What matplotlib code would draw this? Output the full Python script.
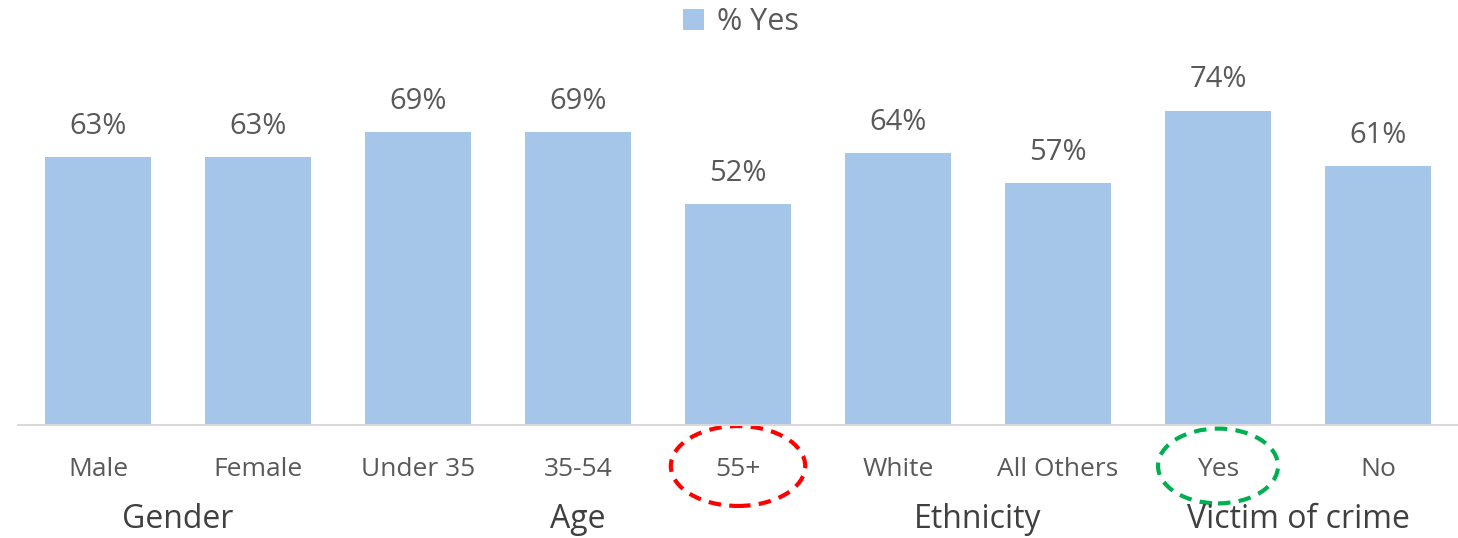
import matplotlib.pyplot as plt
from matplotlib.patches import Ellipse
import matplotlib.transforms as mtransforms

categories = ['Male', 'Female', 'Under 35', '35-54', '55+', 'White', 'All Others', 'Yes', 'No']
values = [63, 63, 69, 69, 52, 64, 57, 74, 61]
groups = ['Gender', 'Age', 'Ethnicity', 'Victim of crime']
group_centers = [0.5, 3.0, 5.5, 7.5]

bar_color = '#A5C6E8'
text_color = '#595959'
plt.rcParams['font.family'] = ['Open Sans', 'DejaVu Sans']

fig = plt.figure(figsize=(14.58, 5.38), dpi=100)
ax = fig.add_axes([18 / 1458, 1 - 425 / 538, 1440 / 1458, 340 / 538])

x = range(len(categories))
bars = ax.bar(x, values, width=0.66, color=bar_color, label='% Yes', zorder=2)
ax.set_xlim(-0.5, len(categories) - 0.5)
ax.set_ylim(0, 80)

for xi, v in zip(x, values):
    ax.annotate(f'{v}%', (xi, v), xytext=(0, 22), textcoords='offset points',
                ha='center', va='center', fontsize=21, color=text_color)

for s in ['top', 'right', 'left']:
    ax.spines[s].set_visible(False)
ax.spines['bottom'].set_color('#D9D9D9')
ax.spines['bottom'].set_linewidth(1.5)
ax.set_yticks([])
ax.set_xticks([])

trans = mtransforms.blended_transform_factory(ax.transData, ax.transAxes)
for xi, c in zip(x, categories):
    ax.text(xi, -44 / 340, c, transform=trans, ha='center', va='center',
            fontsize=19, color=text_color, clip_on=False)
for g, c in zip(groups, group_centers):
    ax.text(c, -95 / 340, g, transform=trans, ha='center', va='center',
            fontsize=23, color='#404040', clip_on=False)

ax.add_patch(Ellipse((4, -41 / 340), 0.84, 0.235, transform=trans, fill=False,
                     edgecolor='#FF0000', linestyle=(0, (3, 2)), linewidth=3, clip_on=False))
ax.add_patch(Ellipse((7, -41 / 340), 0.75, 0.22, transform=trans, fill=False,
                     edgecolor='#00B050', linestyle=(0, (3, 2)), linewidth=3, clip_on=False))

fig.legend(handles=[bars], labels=['% Yes'], loc='center', bbox_to_anchor=(0.508, 1 - 22 / 538),
           frameon=False, fontsize=22, labelcolor=text_color, handlelength=0.7, handleheight=0.7,
           handletextpad=0.4)

fig.savefig('out.png', dpi=100)
